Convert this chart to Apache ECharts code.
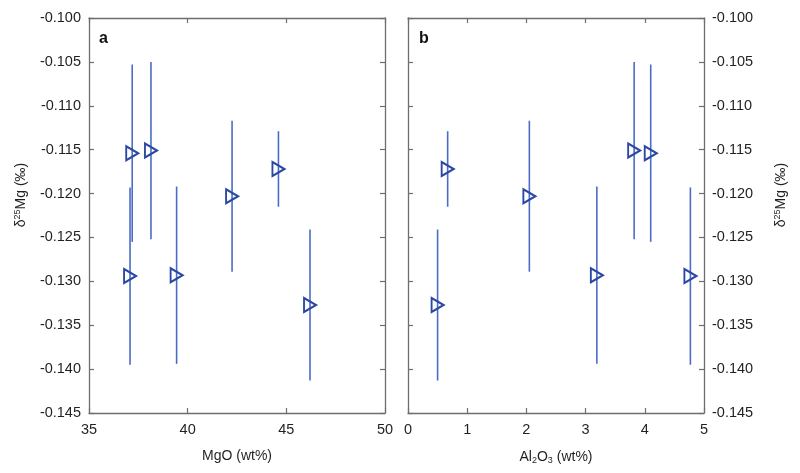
<!DOCTYPE html>
<html>
<head>
<meta charset="utf-8">
<script src="https://cdn.jsdelivr.net/npm/echarts@6/dist/echarts.min.js"></script>
<style>
html,body{margin:0;padding:0;background:#fff;}
#c{width:800px;height:473px;}
</style>
</head>
<body>
<div id="c"></div>
<script>
// Data
var mgo   = [37.19, 38.14, 37.08, 39.44, 42.25, 44.60, 46.20];
var al2o3 = [4.10, 3.82, 4.77, 3.19, 2.05, 0.67, 0.50];
var d25Mg = [-0.1154, -0.1151, -0.1294, -0.1293, -0.1203, -0.1172, -0.1327];
var err2s = [0.0101, 0.0101, 0.0101, 0.0101, 0.0086, 0.0043, 0.0086];
var yTicks = {min: -0.145, max: -0.100, interval: 0.005};
var xTicksA = {min: 35, max: 50, interval: 5};
var xTicksB = {min: 0, max: 5, interval: 1};

var FONT = 'Liberation Sans, Arial, sans-serif';
var AX = '#6d6e71';
var TXT = '#231f20';
var MARK = '#2a48a3';
var BAR = '#4b6cc6';

function pts(xs){ return xs.map(function(x,i){ return [x, d25Mg[i], err2s[i]]; }); }

function baseAxis(extra){
  var o = {
    axisLine:{show:true, onZero:false, lineStyle:{color:AX, width:1.3}},
    axisTick:{show:true, inside:true, length:5, lineStyle:{color:AX, width:1.2}},
    splitLine:{show:false},
    axisLabel:{show:true, color:TXT, fontSize:14, fontFamily:FONT}
  };
  for (var k in extra) o[k] = extra[k];
  return o;
}

var yRich = {
  t:{fontSize:14, fontFamily:FONT, color:TXT},
  s:{fontSize:9, fontFamily:FONT, color:TXT, padding:[0,0,7,0]}
};

function yAx(grid, pos, showLab){
  return baseAxis({
    gridIndex:grid, type:'value', position:pos,
    min:yTicks.min, max:yTicks.max, interval:yTicks.interval,
    axisLabel:{show:showLab, color:TXT, fontSize:14.5, fontFamily:FONT, margin:8,
      formatter:function(v){ return v.toFixed(3); }}
  });
}
function xAx(grid, pos, t, showLab, name){
  return baseAxis({
    gridIndex:grid, type:'value', position:pos,
    min:t.min, max:t.max, interval:t.interval,
    axisLabel:{show:showLab, color:TXT, fontSize:14.5, fontFamily:FONT, margin:9},
    name: showLab ? name : '',
    nameLocation:'middle', nameGap:36,
    nameTextStyle:{color:TXT, fontSize:14, fontFamily:FONT, rich:{
      t:{fontSize:14, fontFamily:FONT, color:TXT},
      u:{fontSize:9, fontFamily:FONT, color:TXT, padding:[7,0,0,0]}
    }}
  });
}

function errSeries(xi, yi, data){
  return {
    type:'custom', xAxisIndex:xi, yAxisIndex:yi, data:data, z:2, silent:true,
    renderItem:function(params, api){
      var x = api.value(0), y = api.value(1), e = api.value(2);
      var p1 = api.coord([x, y + e]);
      var p2 = api.coord([x, y - e]);
      return {type:'line', shape:{x1:p1[0], y1:p1[1], x2:p2[0], y2:p2[1]},
        style:{stroke:BAR, lineWidth:1.6}};
    }
  };
}
function markSeries(xi, yi, data){
  return {
    type:'scatter', xAxisIndex:xi, yAxisIndex:yi, data:data, z:3,
    symbol:'triangle', symbolRotate:-90, symbolSize:[14,12],
    itemStyle:{color:'rgba(255,255,255,0)', borderColor:MARK, borderWidth:2, opacity:1}
  };
}

var yNameText = '{t|δ}{s|25}{t|Mg (‰)}';
function yNameGraphic(cx){
  return {type:'text', x:cx, y:195, rotation:Math.PI/2,
    style:{text:yNameText, rich:yRich, align:'center', verticalAlign:'middle',
      font:'14px '+FONT, fill:TXT}};
}

var chart = echarts.init(document.getElementById('c'));
chart.setOption({
  animation:false,
  backgroundColor:'#fff',
  grid:[
    {left:89, right:415, top:18, bottom:60},
    {left:408, right:96, top:18, bottom:60}
  ],
  xAxis:[
    xAx(0,'bottom',xTicksA,true,'MgO (wt%)'),
    xAx(0,'top',xTicksA,false,''),
    xAx(1,'bottom',xTicksB,true,'{t|Al}{u|2}{t|O}{u|3}{t| (wt%)}'),
    xAx(1,'top',xTicksB,false,'')
  ],
  yAxis:[
    yAx(0,'left',true),
    yAx(0,'right',false),
    yAx(1,'left',false),
    yAx(1,'right',true)
  ],
  graphic:[
    {type:'text', left:99, top:31, style:{text:'a', font:'bold 16px '+FONT, fill:'#111'}},
    {type:'text', left:419, top:31, style:{text:'b', font:'bold 16px '+FONT, fill:'#111'}},
    yNameGraphic(21),
    yNameGraphic(781)
  ],
  series:[
    errSeries(0,0,pts(mgo)),
    markSeries(0,0,pts(mgo)),
    errSeries(2,3,pts(al2o3)),
    markSeries(2,3,pts(al2o3))
  ]
});
</script>
</body>
</html>
